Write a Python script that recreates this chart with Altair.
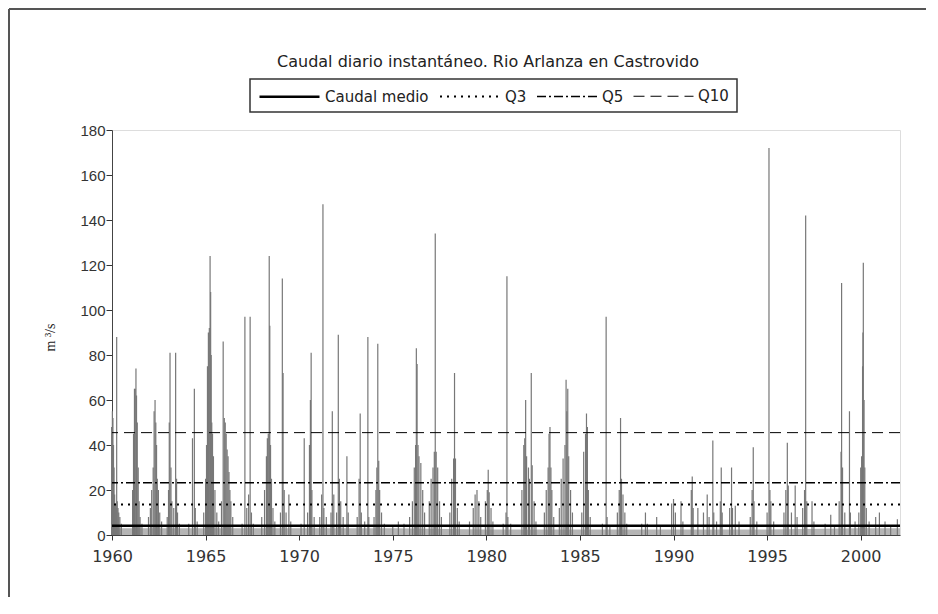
import altair as alt
import pandas as pd

# Daily flow spikes: (decimal year, m3/s)
flow_year = [
    1959.98, 1960.02, 1960.05, 1960.08, 1960.11, 1960.14, 1960.18, 1960.22, 1960.25, 1960.28, 1960.32, 1960.36, 1960.42, 1960.50,
    1961.10, 1961.15, 1961.20, 1961.24, 1961.28, 1961.31, 1961.35, 1961.40, 1961.45, 1961.50, 1961.60,
    1961.95, 1962.05, 1962.12, 1962.20, 1962.25, 1962.30, 1962.34, 1962.38, 1962.42, 1962.48, 1962.55, 1962.65,
    1962.95, 1963.02, 1963.06, 1963.10, 1963.15, 1963.20, 1963.30, 1963.40, 1963.45, 1963.50, 1963.60,
    1964.10, 1964.30, 1964.40, 1964.45, 1964.55,
    1964.90, 1965.00, 1965.05, 1965.10, 1965.15, 1965.20, 1965.24, 1965.27, 1965.30, 1965.33, 1965.37, 1965.42, 1965.50, 1965.60, 1965.70,
    1965.85, 1965.94, 1966.00, 1966.05, 1966.10, 1966.15, 1966.20, 1966.25, 1966.30, 1966.35, 1966.45,
    1966.95, 1967.10, 1967.20, 1967.30, 1967.38, 1967.45, 1967.55,
    1968.00, 1968.15, 1968.25, 1968.30, 1968.35, 1968.40, 1968.43, 1968.47, 1968.52, 1968.60, 1968.70,
    1969.00, 1969.10, 1969.14, 1969.20, 1969.30, 1969.45, 1969.55,
    1970.10, 1970.27, 1970.45, 1970.55, 1970.60, 1970.64, 1970.68, 1970.80,
    1971.10, 1971.20, 1971.27, 1971.32, 1971.45, 1971.70, 1971.77, 1971.85,
    1972.00, 1972.09, 1972.15, 1972.22, 1972.35, 1972.55, 1972.62,
    1973.10, 1973.20, 1973.26, 1973.32, 1973.50, 1973.67, 1973.72,
    1974.00, 1974.10, 1974.15, 1974.20, 1974.25, 1974.30, 1974.40, 1974.55,
    1975.00, 1975.30, 1975.60, 1975.90,
    1976.05, 1976.15, 1976.22, 1976.26, 1976.30, 1976.35, 1976.40, 1976.50, 1976.60, 1976.70,
    1976.95, 1977.05, 1977.15, 1977.22, 1977.27, 1977.32, 1977.40, 1977.50, 1977.60,
    1978.05, 1978.15, 1978.25, 1978.30, 1978.35, 1978.45, 1978.55,
    1979.10, 1979.30, 1979.40, 1979.50, 1979.60, 1979.70,
    1979.95, 1980.05, 1980.10, 1980.15, 1980.25, 1980.35,
    1980.90, 1981.05, 1981.10, 1981.15, 1981.30,
    1981.90, 1982.00, 1982.05, 1982.10, 1982.15, 1982.25, 1982.30, 1982.40, 1982.45, 1982.55, 1982.65,
    1983.10, 1983.20, 1983.30, 1983.35, 1983.40, 1983.45, 1983.50, 1983.60,
    1983.90, 1984.00, 1984.10, 1984.20, 1984.26, 1984.30, 1984.35, 1984.40, 1984.50, 1984.60,
    1985.10, 1985.20, 1985.30, 1985.35, 1985.40, 1985.45, 1985.55,
    1986.20, 1986.40, 1986.45, 1986.60,
    1987.00, 1987.10, 1987.17, 1987.22, 1987.30, 1987.40, 1987.50,
    1988.30, 1988.50, 1988.60,
    1989.10, 1989.30,
    1989.90, 1990.00, 1990.10, 1990.40, 1990.50,
    1990.95, 1991.00, 1991.05, 1991.30, 1991.60, 1991.80, 1991.90,
    1992.10, 1992.15, 1992.30, 1992.50, 1992.55, 1992.60,
    1993.00, 1993.10, 1993.15, 1993.30, 1993.50,
    1994.10, 1994.20, 1994.26, 1994.30, 1994.45,
    1995.00, 1995.10, 1995.15, 1995.20, 1995.35,
    1995.90, 1996.00, 1996.08, 1996.13, 1996.30, 1996.50, 1996.60,
    1996.90, 1997.00, 1997.06, 1997.12, 1997.40, 1997.50,
    1998.10, 1998.40, 1998.60,
    1998.85, 1998.95, 1998.98, 1999.03, 1999.15, 1999.40, 1999.45, 1999.70,
    1999.90, 2000.00, 2000.05, 2000.10, 2000.12, 2000.14, 2000.18, 2000.22, 2000.30, 2000.45,
    2000.80, 2001.00, 2001.30, 2001.60, 2001.96,
]
flow_value = [
    48, 55, 52, 40, 30, 18, 14, 12, 88, 15, 12, 10, 8, 5,
    20, 45, 65, 65, 74, 62, 50, 30, 15, 8, 5,
    8, 12, 20, 30, 55, 60, 50, 40, 25, 20, 10, 6,
    8, 20, 50, 81, 30, 15, 12, 81, 25, 10, 5,
    5, 43, 65, 12, 6,
    10, 25, 40, 75, 90, 92, 124, 108, 80, 50, 45, 35, 20, 10, 6,
    15, 86, 52, 50, 45, 38, 35, 28, 20, 15, 8,
    5, 97, 12, 18, 97, 10, 5,
    8, 20, 35, 43, 45, 124, 93, 40, 25, 12, 6,
    10, 114, 72, 20, 10, 18, 6,
    5, 43, 10, 40, 60, 81, 20, 8,
    8, 18, 147, 12, 8, 10, 55, 18,
    10, 89, 25, 15, 8, 35, 10,
    8, 25, 54, 10, 6, 88, 8,
    8, 20, 30, 85, 33, 20, 10, 5,
    4, 6, 5, 8,
    15, 30, 40, 83, 76, 40, 35, 32, 20, 10,
    15, 25, 30, 37, 134, 37, 30, 15, 8,
    10, 25, 34, 72, 34, 12, 6,
    6, 12, 18, 20, 15, 8,
    15, 20, 29, 19, 12, 6,
    5, 10, 115, 8, 5,
    20, 40, 43, 60, 35, 30, 25, 72, 31, 15, 6,
    10, 20, 30, 45, 48, 30, 20, 8,
    12, 25, 34, 40, 69, 55, 65, 35, 20, 10,
    10, 37, 45, 54, 48, 20, 8,
    5, 97, 8, 4,
    10, 20, 52, 25, 18, 10, 5,
    5, 10, 5,
    8, 4,
    14, 16, 10, 15, 6,
    20, 26, 12, 12, 10, 18, 8,
    42, 10, 6, 15, 30, 10,
    12, 30, 12, 13, 6,
    8, 20, 39, 15, 6,
    10, 172, 20, 15, 6,
    10, 20, 41, 22, 10, 22, 8,
    12, 20, 142, 15, 15, 6,
    5, 9, 4,
    15, 37, 112, 30, 10, 55, 10, 6,
    10, 30, 35, 75, 90, 121, 60, 30, 12, 6,
    8, 10, 6, 4, 7,
]

# Low (base) flows band
base_year = [1960, 1965, 1970, 1975, 1980, 1985, 1990, 1995, 2000, 2002.1]
base_flow = [3, 3, 3, 3, 2.5, 2.5, 2.5, 2.5, 3, 3]

# Reference flows (m3/s)
ref_names = ["Caudal medio", "Q3", "Q5", "Q10"]
ref_values = [4.1, 13.6, 23.2, 45.5]

title_text = "Caudal diario instantáneo. Rio Arlanza en Castrovido"
x_ticks = [1960, 1965, 1970, 1975, 1980, 1985, 1990, 1995, 2000]
y_ticks = [0, 20, 40, 60, 80, 100, 120, 140, 160, 180]

flows = pd.DataFrame({"year": flow_year, "flow": flow_value})
base = pd.DataFrame({"year": base_year, "flow": base_flow})
refs = pd.DataFrame({"name": ref_names, "value": ref_values})
titles = pd.DataFrame({"t": [title_text]})

W, H = 788, 405

xscale = alt.Scale(domain=[1960, 2002.1], nice=False, zero=False)
yscale = alt.Scale(domain=[0, 180], nice=False)

x_axis = alt.Axis(values=x_ticks, format="d", title=None, grid=False,
                  labelFont="DejaVu Sans", labelFontSize=16, labelColor="#333",
                  tickSize=5, tickColor="#333", domainColor="#444",
                  labelPadding=8, labelFlush=False)
y_axis = alt.Axis(values=y_ticks, title="m ³/s", grid=False,
                  labelFont="Liberation Sans", labelFontSize=15, labelColor="#333",
                  tickSize=6, tickColor="#333", domainColor="#444", labelPadding=1,
                  titleFont="Liberation Serif", titleFontSize=14, titleFontWeight="normal",
                  titleColor="#222", titleAngle=270, titleX=-62, titleY=207,
                  titleAlign="center", titleBaseline="middle")

base_band = alt.Chart(base).mark_area(color="#b5b5b5").encode(
    x=alt.X("year:Q", scale=xscale, axis=x_axis),
    y=alt.Y("flow:Q", scale=yscale, axis=y_axis),
)

spikes = alt.Chart(flows).mark_rule(color="#777777", strokeWidth=1.2).encode(
    x=alt.X("year:Q", scale=xscale),
    y=alt.Y("flow:Q", scale=yscale),
    y2=alt.datum(0),
)

legend_cfg = dict(
    title=None, orient="none", legendX=146, legendY=-65, direction="horizontal",
    symbolType="stroke", symbolSize=3600, symbolStrokeColor="black",
    labelFont="DejaVu Sans", labelFontSize=15, labelColor="#222",
    padding=0, columnPadding=7, labelOffset=4,
)

ref_lines = alt.Chart(refs).mark_rule(color="black").encode(
    y=alt.Y("value:Q", scale=yscale),
    strokeDash=alt.StrokeDash(
        "name:N",
        scale=alt.Scale(domain=ref_names, range=[[1, 0], [2, 5], [9, 3, 2, 3], [11, 6]]),
        legend=alt.Legend(**legend_cfg),
    ),
    strokeWidth=alt.StrokeWidth(
        "name:N",
        scale=alt.Scale(domain=ref_names, range=[2.5, 1, 1, 1]),
        legend=alt.Legend(**legend_cfg),
    ),
)

# legend box
legend_box = alt.Chart(titles).mark_rect(fill="white", fillOpacity=0, stroke="#333", strokeWidth=1.5).encode(
    x=alt.value(138), x2=alt.value(625), y=alt.value(-51), y2=alt.value(-18)
)

# chart title
title_mark = alt.Chart(titles).mark_text(
    font="DejaVu Sans", fontSize=16, color="#222", align="center", baseline="middle"
).encode(text="t:N", x=alt.value(376), y=alt.value(-68))

# outer page frame (left and top edges)
frame_top = alt.Chart(titles).mark_rule(color="#555", strokeWidth=2).encode(
    x=alt.value(-103), x2=alt.value(W + 26), y=alt.value(-121)
)
frame_left = alt.Chart(titles).mark_rule(color="#555", strokeWidth=2).encode(
    x=alt.value(-103), y=alt.value(-121), y2=alt.value(H + 62)
)

chart = alt.layer(base_band, spikes, ref_lines, legend_box, title_mark, frame_top, frame_left).properties(
    width=W, height=H,
    autosize=alt.AutoSizeParams(type="none"),
    padding={"left": 104, "top": 122, "right": 28, "bottom": 62},
).configure_view(stroke="#444", strokeWidth=1.5).configure(background="white")

chart.save("out.html", embed_options={"renderer": "svg", "actions": False})
